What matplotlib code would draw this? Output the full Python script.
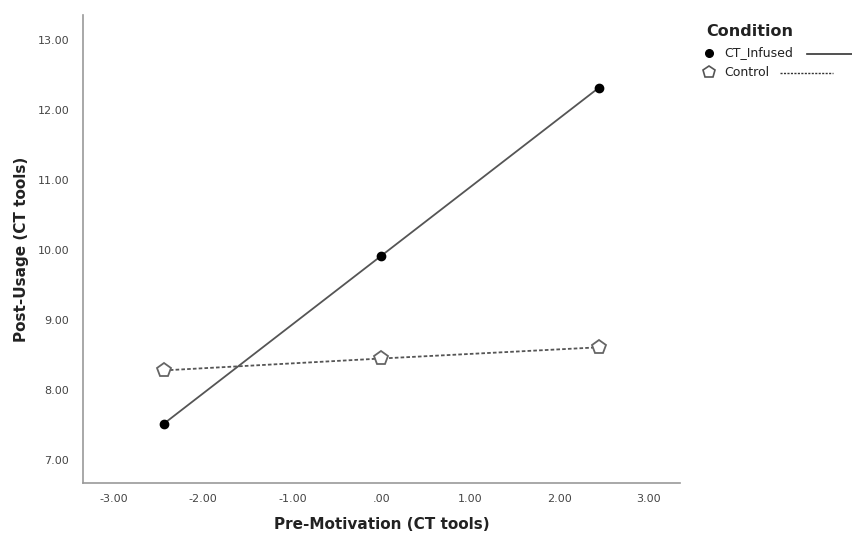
import matplotlib.pyplot as plt
from matplotlib.lines import Line2D

# predicted post-usage at low / mean / high pre-motivation
pre_motivation = [-2.44, 0.0, 2.44]
ct_infused = [7.52, 9.92, 12.32]
control = [8.28, 8.45, 8.61]

x_ticks = [-3, -2, -1, 0, 1, 2, 3]
y_ticks = [7, 8, 9, 10, 11, 12, 13]


def spss_fmt(v):
    s = "%.2f" % v
    if s.startswith("0."):
        s = s[1:]
    return s


fig = plt.figure(figsize=(8.52, 5.33), dpi=100)
ax = fig.add_axes([0.0974, 0.0938, 0.7006, 0.878])

ax.plot(pre_motivation, ct_infused, color="#555555", lw=1.3, ls="-",
        marker="o", ms=6, mfc="black", mec="black", zorder=3)
ax.plot(pre_motivation, control, color="#555555", lw=1.3, ls=(0, (2, 1.2)),
        marker="p", ms=10, mfc="white", mec="#666666", mew=1.3, zorder=3)

ax.set_xlim(-3.35, 3.35)
ax.set_ylim(6.67, 13.36)
ax.set_xticks(x_ticks)
ax.set_yticks(y_ticks)
ax.set_xticklabels([spss_fmt(v) for v in x_ticks])
ax.set_yticklabels([spss_fmt(v) for v in y_ticks])
ax.tick_params(axis="x", length=0, labelsize=8, colors="#444444", pad=8)
ax.tick_params(axis="y", length=0, labelsize=8, colors="#444444", pad=10)

for side in ("top", "right"):
    ax.spines[side].set_visible(False)
for side in ("left", "bottom"):
    ax.spines[side].set_color("#999999")
    ax.spines[side].set_linewidth(1.2)

ax.set_xlabel("Pre-Motivation (CT tools)", fontsize=11, fontweight="bold",
              color="#222222", labelpad=9)
ax.set_ylabel("Post-Usage (CT tools)", fontsize=11, fontweight="bold",
              color="#222222", labelpad=6)

# legend drawn by hand: marker, label, then line sample
W, H = 852, 533


def fx(px):
    return px / W


def fy(py):
    return 1 - py / H


fig.text(fx(706), fy(31), "Condition", fontsize=11.5, fontweight="bold",
         color="#222222", va="center")
fig.add_artist(Line2D([fx(709)], [fy(53)], marker="o", ms=5.5,
                      mfc="black", mec="black", ls="none"))
fig.text(fx(724), fy(53), "CT_Infused", fontsize=9, color="#222222", va="center")
fig.add_artist(Line2D([fx(807), fx(852)], [fy(54), fy(54)], color="#333333", lw=1.2))
fig.add_artist(Line2D([fx(709)], [fy(72)], marker="p", ms=9,
                      mfc="white", mec="#555555", mew=1.2, ls="none"))
fig.text(fx(724), fy(72), "Control", fontsize=9, color="#222222", va="center")
fig.add_artist(Line2D([fx(780), fx(833)], [fy(73), fy(73)], color="#333333",
                      lw=1.0, ls=(0, (1.5, 1))))

fig.savefig("out.png", dpi=100)
